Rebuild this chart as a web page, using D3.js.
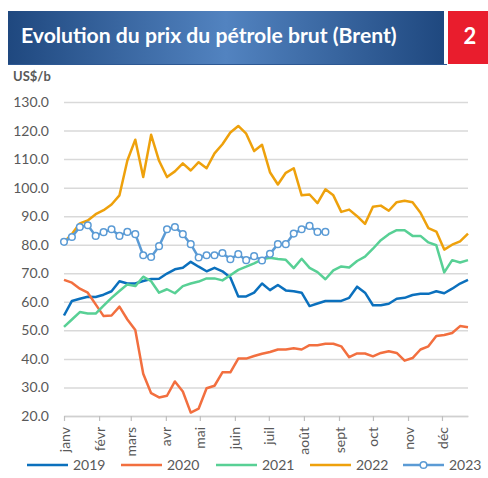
<!DOCTYPE html>
<html>
<head>
<meta charset="utf-8">
<script src="https://cdn.jsdelivr.net/npm/d3@7"></script>
<style>
  body { margin:0; background:#fff; }
  svg { display:block; font-family: Lato, "Open Sans", sans-serif; }
</style>
</head>
<body>
<svg></svg>
<script>
var screen = {width:488, height:478}
var margins = {top:102, right:20, bottom:62, left:64}

// weekly Brent prices, one value per week starting 1 Jan
var prix2019 = [55.2,60.3,61.1,61.8,61.7,62.5,63.7,67.2,66.4,66.4,67.3,68.0,68.1,69.9,71.4,71.9,74.0,72.3,70.7,71.9,70.7,68.5,61.9,61.9,63.2,66.4,64.1,65.9,64.0,63.7,63.2,58.5,59.4,60.3,60.3,60.3,61.4,65.3,63.2,58.8,58.8,59.3,61.1,61.4,62.4,62.8,62.8,63.7,63.0,64.6,66.4,67.7]
var prix2020 = [67.7,66.7,64.6,63.2,59.1,55.0,55.2,58.3,53.8,50.1,34.8,28.0,26.5,27.1,32.1,28.6,21.2,22.6,29.7,30.6,35.3,35.3,40.1,40.1,41.0,41.8,42.4,43.3,43.3,43.7,43.3,44.8,44.8,45.3,45.3,44.4,40.6,41.9,41.9,40.9,42.1,42.7,42.1,39.4,40.3,43.3,44.4,48.0,48.4,49.1,51.5,51.1]
var prix2021 = [51.2,53.8,56.4,55.9,55.9,58.7,61.4,63.8,66.1,65.5,68.8,67.2,63.2,64.4,63.0,65.5,66.4,67.1,68.2,68.2,67.5,69.3,71.2,72.3,73.5,74.9,75.4,75.0,74.7,71.8,75.1,71.9,70.4,67.9,71.0,72.4,72.0,74.3,75.8,78.6,81.6,83.7,85.1,85.1,83.1,83.1,80.8,79.8,70.3,74.6,73.8,74.6]
var prix2022 = [80.8,83.8,87.5,88.5,90.7,92.1,94.1,97.3,109.5,116.8,103.7,118.5,109.4,103.7,105.7,108.5,106.0,108.9,106.8,112.0,115.2,119.3,121.6,118.9,112.8,115.0,105.4,101.1,105.2,106.8,97.3,97.6,94.6,99.4,97.3,91.5,92.3,90.0,87.3,93.3,93.7,91.9,94.9,95.4,94.9,91.2,85.8,84.6,78.3,80.0,81.2,83.9]
var prix2023 = [81.0,82.7,86.2,86.8,83.1,84.4,85.4,83.1,84.5,83.7,76.3,75.7,79.5,85.4,86.2,83.7,80.2,75.5,76.3,76.3,77.1,74.9,76.7,74.6,76.0,74.5,76.8,80.2,80.2,83.9,85.4,86.6,84.5,84.5]

var annees = ["2019","2020","2021","2022","2023"]
var couleurs = ["#0b70bd","#f26f3f","#58d095","#eea10c","#5b9bd5"]
var mois = ["janv","févr","mars","avr","mai","juin","juil","août","sept","oct","nov","déc"]
var yTicks = [20,30,40,50,60,70,80,90,100,110,120,130]

var series = [prix2019, prix2020, prix2021, prix2022, prix2023].map(function(vals, i){
  return {annee: annees[i], couleur: couleurs[i], valeurs: vals}
})

var debut = new Date(Date.UTC(2023,0,1))
var semaine = function(i){ return d3.utcDay.offset(debut, 7*i) }

var svg = d3.select("svg")
  .attr("width", screen.width)
  .attr("height", screen.height)

// banner
var defs = svg.append("defs")
var grad = defs.append("linearGradient").attr("id","bandeau")
grad.append("stop").attr("offset","0%").attr("stop-color","#1f487f")
grad.append("stop").attr("offset","50%").attr("stop-color","#5283c0")
grad.append("stop").attr("offset","100%").attr("stop-color","#1f487f")

svg.append("rect").attr("x",8).attr("y",11).attr("width",436).attr("height",53).attr("fill","url(#bandeau)")
svg.append("line").attr("x1",8).attr("x2",447).attr("y1",64.5).attr("y2",64.5).attr("stroke","#2d5893").attr("stroke-width",1)
svg.append("rect").attr("x",448).attr("y",11).attr("width",40).attr("height",53).attr("fill","#e91d2d")

var titre = svg.append("text")
  .attr("x",21).attr("y",43)
  .attr("fill","#fff")
  .attr("font-weight","bold")
  .attr("font-size",20)
  .text("Evolution du prix du pétrole brut (Brent)")
var lg = titre.node().getComputedTextLength()
titre.attr("font-size", 20*376/lg)

svg.append("text")
  .attr("x",470).attr("y",44)
  .attr("text-anchor","middle")
  .attr("fill","#fff")
  .attr("font-weight","bold")
  .attr("font-size",22)
  .text("2")

svg.append("text")
  .attr("x",13).attr("y",81)
  .attr("fill","#595959")
  .attr("font-weight","bold")
  .attr("font-size",13)
  .text("US$/b")

var width = screen.width - margins.left - margins.right
var height = 416 - margins.top

var xScale = d3.scaleUtc()
  .domain([debut, semaine(51)])
  .range([0, width])

var yScale = d3.scaleLinear()
  .domain([20,130])
  .range([height, 0])

var graph = svg.append("g")
  .attr("id","graph")
  .attr("transform","translate("+margins.left+","+margins.top+")")

// y axis + gridlines
var yAxis = d3.axisLeft(yScale)
  .tickValues(yTicks)
  .tickFormat(d3.format(".1f"))
  .tickSize(-width)
  .tickPadding(15)

graph.append("g")
  .attr("class","yAxis")
  .call(yAxis)
  .call(function(g){
    g.select(".domain").remove()
    g.selectAll("line").attr("stroke","#d9d9d9").attr("stroke-width",1.5)
    g.selectAll("text").attr("fill","#595959").attr("font-size",14).attr("font-family","Lato")
  })

// x axis
var xAxis = d3.axisBottom(xScale)
  .tickValues(d3.utcMonth.range(debut, semaine(52)))
  .tickFormat(function(d, i){ return mois[i] })
  .tickSize(5)
  .tickSizeOuter(0)

graph.append("g")
  .attr("class","xAxis")
  .attr("transform","translate(0,"+height+")")
  .call(xAxis)
  .call(function(g){
    g.select(".domain").attr("stroke","#d0d0d0").attr("stroke-width",1.5)
    g.selectAll("line").attr("stroke","#bfbfbf").attr("stroke-width",1.2)
    g.selectAll("text")
      .attr("fill","#595959")
      .attr("font-size",14)
      .attr("font-family","Lato")
      .attr("transform","rotate(-90)")
      .attr("text-anchor","end")
      .attr("x",-11)
      .attr("y",0)
      .attr("dy","0.36em")
  })

var linegenerator = d3.line()
  .x(function(v, i){ return xScale(semaine(i)) })
  .y(function(v){ return yScale(v) })

var lignes = graph.selectAll(".serie")
  .data(series)
  .enter()
  .append("g")
  .attr("class","serie")

lignes.append("path")
  .attr("fill","none")
  .attr("stroke", function(s){ return s.couleur })
  .attr("stroke-width",2.5)
  .attr("stroke-linejoin","round")
  .attr("d", function(s){ return linegenerator(s.valeurs) })

// markers for 2023
graph.append("g")
  .selectAll("circle")
  .data(prix2023)
  .enter()
  .append("circle")
  .attr("cx", function(v, i){ return xScale(semaine(i)) })
  .attr("cy", function(v){ return yScale(v) })
  .attr("r",3.3)
  .attr("fill","#fff")
  .attr("stroke","#5b9bd5")
  .attr("stroke-width",1.5)

// legend
var legendeX = [27,121,216,310,403]
var legende = svg.append("g")
  .selectAll("g")
  .data(series)
  .enter()
  .append("g")
  .attr("transform", function(s, i){ return "translate("+legendeX[i]+",465)" })

legende.append("line")
  .attr("x1",0).attr("x2",41)
  .attr("stroke", function(s){ return s.couleur })
  .attr("stroke-width",2.5)

legende.filter(function(s){ return s.annee == "2023" })
  .append("circle")
  .attr("cx",20.5).attr("r",3.3)
  .attr("fill","#fff").attr("stroke","#5b9bd5").attr("stroke-width",1.5)

legende.append("text")
  .attr("x",46).attr("y",5)
  .attr("fill","#595959")
  .attr("font-size",14)
  .text(function(s){ return s.annee })
</script>
</body>
</html>
